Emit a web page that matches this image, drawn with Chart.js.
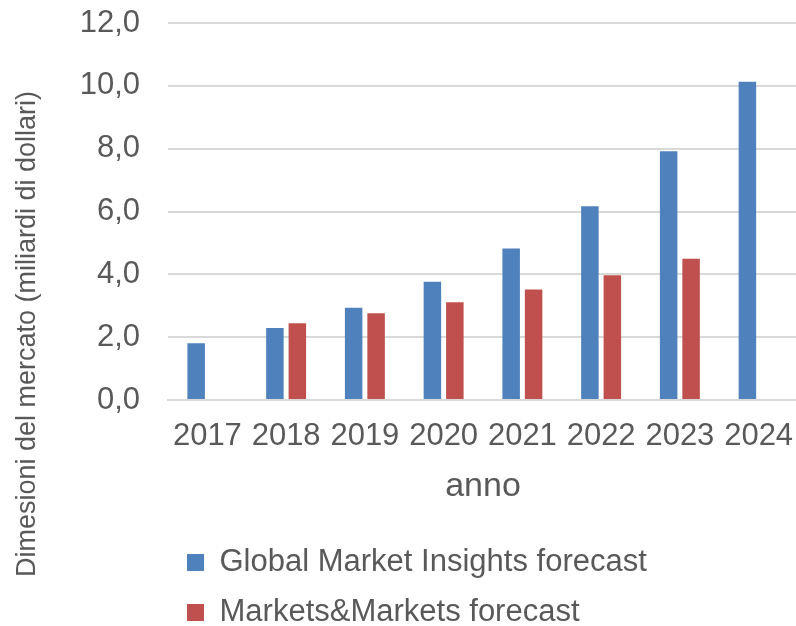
<!DOCTYPE html>
<html>
<head>
<meta charset="utf-8">
<script src="https://cdn.jsdelivr.net/npm/chart.js@4/dist/chart.umd.min.js"></script>
<style>
    html, body { margin: 0; padding: 0; background: #ffffff; overflow: hidden; }
    #wrap { width: 798px; height: 638px; }
</style>
</head>
<body>
<div id="wrap"><canvas id="marketChart"></canvas></div>
<script>
// years on the x axis
const years = ["2017", "2018", "2019", "2020", "2021", "2022", "2023", "2024"];
// market size, billions of dollars
const globalMarketInsights = [1.81, 2.29, 2.94, 3.76, 4.82, 6.17, 7.92, 10.13];
const marketsAndMarkets = [null, 2.44, 2.76, 3.11, 3.52, 3.97, 4.50, null];
const seriesNames = ["Global Market Insights forecast", "Markets&Markets forecast"];
const yTitle = "Dimesioni del mercato (miliardi di dollari)";
const xTitle = "anno";

const textColor = '#595959';
const fontFamily = "'Liberation Sans', Arial, sans-serif";

// y axis title sits lower than the plot centre, so draw it by hand
const yTitlePlugin = {
    id: 'yTitle',
    afterDraw(chart) {
        const ctx = chart.ctx;
        ctx.save();
        ctx.translate(28, 334);
        ctx.rotate(-Math.PI / 2);
        ctx.font = "27px " + fontFamily;
        ctx.fillStyle = textColor;
        ctx.textAlign = 'center';
        ctx.textBaseline = 'middle';
        ctx.fillText(yTitle, 0, 0);
        ctx.restore();
    }
};

const ctx = document.getElementById('marketChart').getContext('2d');
const marketChart = new Chart(ctx, {
    type: 'bar',
    data: {
        labels: years,
        datasets: [{
            label: seriesNames[0],
            data: globalMarketInsights,
            backgroundColor: '#4F81BD',
            borderWidth: 0
        }, {
            label: seriesNames[1],
            data: marketsAndMarkets,
            backgroundColor: '#C0504D',
            borderWidth: 0
        }]
    },
    options: {
        responsive: true,
        maintainAspectRatio: false,
        animation: false,
        categoryPercentage: 0.57,
        barPercentage: 0.78,
        layout: { padding: { top: 23, left: 0, right: 0, bottom: 0 } },
        scales: {
            x: {
                grid: { display: false, drawTicks: false },
                border: { display: true, color: '#d9d9d9', width: 2 },
                ticks: {
                    color: textColor,
                    font: { size: 31, family: fontFamily },
                    padding: 18,
                    maxRotation: 0,
                    autoSkip: false
                },
                title: {
                    display: true,
                    text: xTitle,
                    color: textColor,
                    font: { size: 34, family: fontFamily },
                    padding: { top: 11.4, bottom: 20.6 }
                },
                afterFit: function(scale) {
                    scale.height = 128;
                    scale.paddingLeft = 0;
                    scale.paddingRight = 0;
                }
            },
            y: {
                min: 0,
                max: 12,
                grid: { color: '#d9d9d9', lineWidth: 2, drawTicks: false },
                border: { display: false },
                ticks: {
                    stepSize: 2,
                    color: textColor,
                    font: { size: 31, family: fontFamily },
                    padding: 28,
                    callback: function(value) {
                        return value.toFixed(1).replace('.', ',');
                    }
                },
                afterFit: function(scale) {
                    scale.width = 168;
                    scale.paddingTop = 0;
                    scale.paddingBottom = 0;
                }
            }
        },
        plugins: {
            legend: {
                position: 'bottom',
                align: 'start',
                fullSize: false,
                labels: {
                    boxWidth: 17,
                    boxHeight: 17,
                    padding: 19,
                    color: textColor,
                    font: { size: 31, family: fontFamily }
                }
            },
            tooltip: { enabled: false }
        }
    },
    plugins: [yTitlePlugin]
});
</script>
</body>
</html>
